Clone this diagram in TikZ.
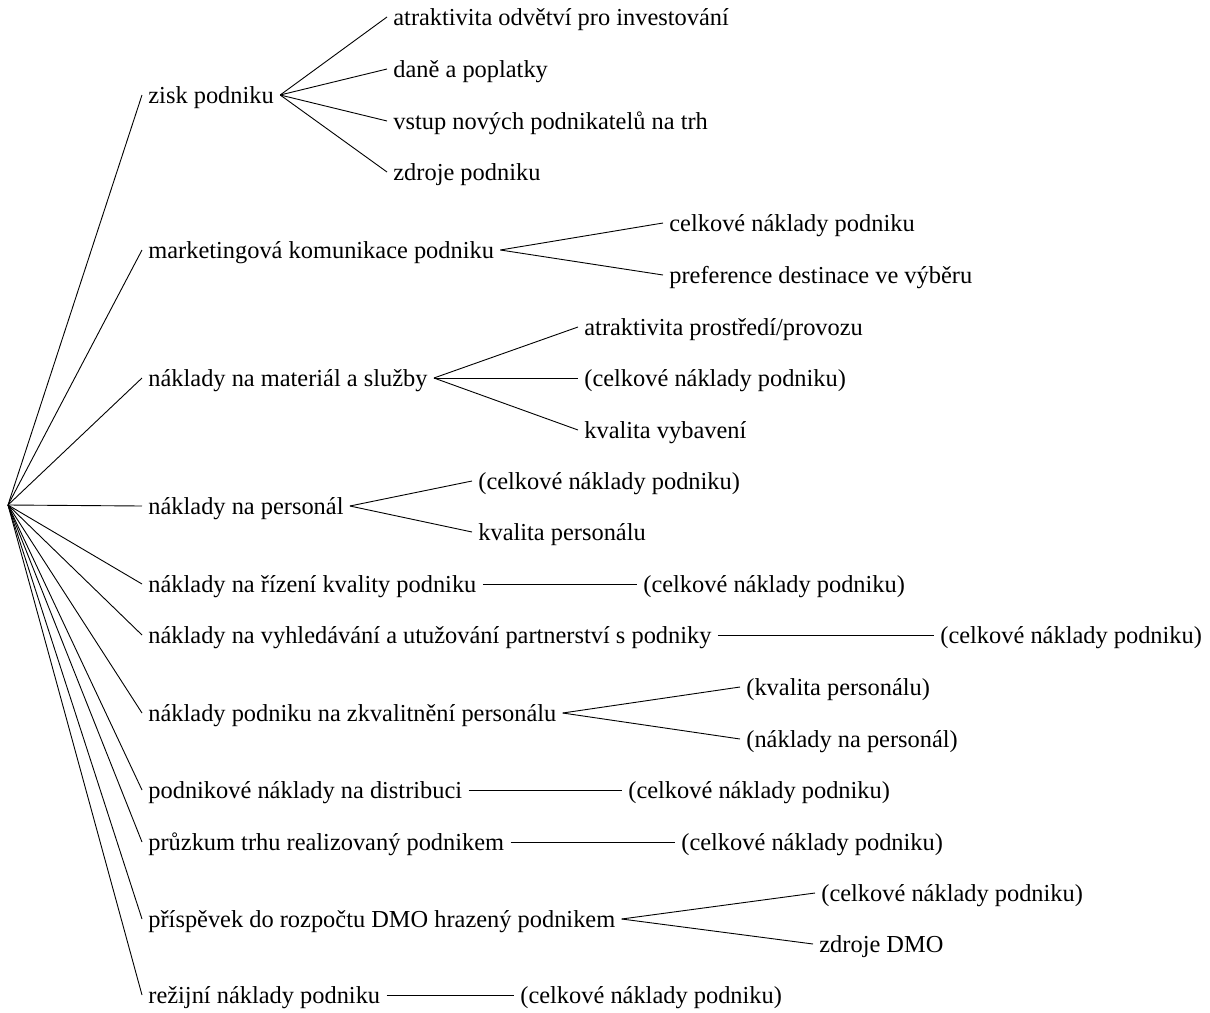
\documentclass[tikz,border=0pt]{standalone}
\usepackage{fontspec}
\setmainfont{Liberation Serif}
\usepackage{tikz}

\begin{document}
\begin{tikzpicture}[
  x=0.5pt, y=-0.5pt,
  item/.style={anchor=west, inner xsep=3pt, inner ysep=0pt, text height=0.85em, text depth=0pt, font=\fontsize{12.2}{14}\selectfont},
  link/.style={draw, line width=0.45pt}
]
\useasboundingbox (0,0) rectangle (1210,1012);
\coordinate (root) at (8,505);

% first level
\node[item] (zisk) at (142,95) {zisk podniku};
\node[item] (mkt) at (142,250) {marketingová komunikace podniku};
\node[item] (mat) at (142,378) {náklady na materiál a služby};
\node[item] (pers) at (142,506) {náklady na personál};
\node[item] (rizeni) at (142,584) {náklady na řízení kvality podniku};
\node[item] (vyhl) at (142,635) {náklady na vyhledávání a utužování partnerství s podniky};
\node[item] (zkval) at (142,713) {náklady podniku na zkvalitnění personálu};
\node[item] (distr) at (142,790) {podnikové náklady na distribuci};
\node[item] (pruzk) at (142,842) {průzkum trhu realizovaný podnikem};
\node[item] (prisp) at (142,919) {příspěvek do rozpočtu DMO hrazený podnikem};
\node[item] (rezie) at (142,995) {režijní náklady podniku};

% second level
\node[item] (atrodv) at (387,17) {atraktivita odvětví pro investování};
\node[item] (dane) at (387,69) {daně a poplatky};
\node[item] (vstup) at (387,121) {vstup nových podnikatelů na trh};
\node[item] (zdroje) at (387,172) {zdroje podniku};
\node[item] (mktcn) at (663,223) {celkové náklady podniku};
\node[item] (pref) at (663,275) {preference destinace ve výběru};
\node[item] (atrpro) at (578,327) {atraktivita prostředí/provozu};
\node[item] (matcn) at (578,378) {(celkové náklady podniku)};
\node[item] (vybav) at (578,430) {kvalita vybavení};
\node[item] (perscn) at (472,481) {(celkové náklady podniku)};
\node[item] (kvpers) at (472,532) {kvalita personálu};
\node[item] (rizcn) at (637,584) {(celkové náklady podniku)};
\node[item] (vyhlcn) at (934,635) {(celkové náklady podniku)};
\node[item] (zkvkv) at (740,687) {(kvalita personálu)};
\node[item] (zkvnp) at (740,739) {(náklady na personál)};
\node[item] (distcn) at (622,790) {(celkové náklady podniku)};
\node[item] (pruzcn) at (675,842) {(celkové náklady podniku)};
\node[item] (prispcn) at (815,893) {(celkové náklady podniku)};
\node[item] (zdrdmo) at (813,944) {zdroje DMO};
\node[item] (rezcn) at (514,995) {(celkové náklady podniku)};

\draw[link] (root) -- (zisk.west);
\draw[link] (root) -- (mkt.west);
\draw[link] (root) -- (mat.west);
\draw[link] (root) -- (pers.west);
\draw[link] (root) -- (rizeni.west);
\draw[link] (root) -- (vyhl.west);
\draw[link] (root) -- (zkval.west);
\draw[link] (root) -- (distr.west);
\draw[link] (root) -- (pruzk.west);
\draw[link] (root) -- (prisp.west);
\draw[link] (root) -- (rezie.west);

\draw[link] (zisk.east) -- (atrodv.west);
\draw[link] (zisk.east) -- (dane.west);
\draw[link] (zisk.east) -- (vstup.west);
\draw[link] (zisk.east) -- (zdroje.west);
\draw[link] (mkt.east) -- (mktcn.west);
\draw[link] (mkt.east) -- (pref.west);
\draw[link] (mat.east) -- (atrpro.west);
\draw[link] (mat.east) -- (matcn.west);
\draw[link] (mat.east) -- (vybav.west);
\draw[link] (pers.east) -- (perscn.west);
\draw[link] (pers.east) -- (kvpers.west);
\draw[link] (rizeni.east) -- (rizcn.west);
\draw[link] (vyhl.east) -- (vyhlcn.west);
\draw[link] (zkval.east) -- (zkvkv.west);
\draw[link] (zkval.east) -- (zkvnp.west);
\draw[link] (distr.east) -- (distcn.west);
\draw[link] (pruzk.east) -- (pruzcn.west);
\draw[link] (prisp.east) -- (prispcn.west);
\draw[link] (prisp.east) -- (zdrdmo.west);
\draw[link] (rezie.east) -- (rezcn.west);
\end{tikzpicture}
\end{document}
